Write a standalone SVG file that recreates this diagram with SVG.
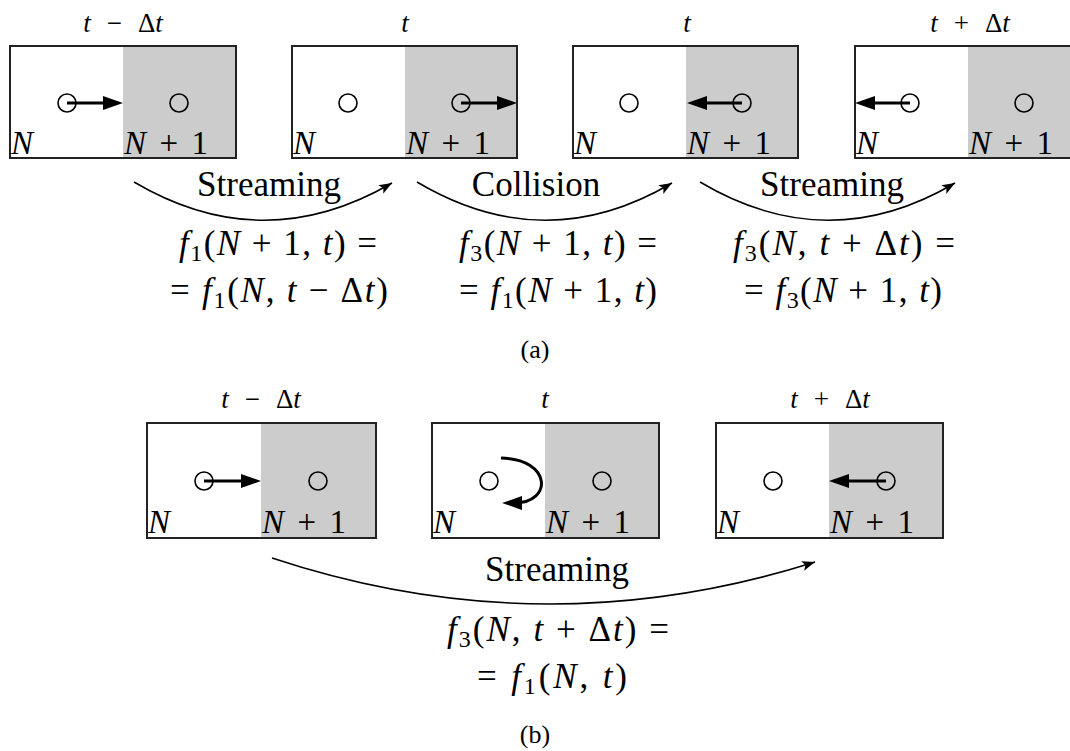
<svg xmlns="http://www.w3.org/2000/svg" width="1070" height="751" viewBox="0 0 1070 751">
<style>
text{font-family:"Liberation Serif","Times New Roman","DejaVu Serif",serif;fill:#000}
.i{font-style:italic}
.box{fill:#fff;stroke:#222;stroke-width:2}
.gray{fill:#cccccc}
.cir{fill:none;stroke:#000;stroke-width:1.6}
.thick{fill:none;stroke:#000;stroke-width:3}
.arc{fill:none;stroke:#000;stroke-width:1.5}
.lab{font-size:27px}
.nl{font-size:33px}
.big{font-size:35px}
.eq{font-size:35px}
.sub{font-size:24px}
.cap{font-size:26px}
</style>
<defs>
<marker id="ah" markerUnits="userSpaceOnUse" markerWidth="22" markerHeight="16" refX="14" refY="7" orient="auto">
<path d="M0,0 L20,7 L0,14 Z" fill="#000"/>
</marker>
<marker id="as" markerUnits="userSpaceOnUse" markerWidth="14" markerHeight="12" refX="13" refY="5" orient="auto">
<path d="M0,0 L13,5 L0,10 L3,5 Z" fill="#000"/>
</marker>
</defs>

<!-- (a) row -->
<g id="a1">
<rect class="box" x="10" y="46" width="226" height="112"/>
<rect class="gray" x="123" y="47" width="112" height="110"/>
<circle class="cir" cx="67" cy="103" r="9"/>
<circle class="cir" cx="179" cy="103" r="9"/>
<line class="thick" x1="67" y1="103" x2="117" y2="103" marker-end="url(#ah)"/>
<text class="nl i" x="11" y="154">N</text>
<text class="nl" x="124" y="154" textLength="84" lengthAdjust="spacing"><tspan class="i">N</tspan> + 1</text>
<text class="lab" x="123" y="32" text-anchor="middle"><tspan class="i">t</tspan><tspan dx="16">−</tspan><tspan dx="16">Δ</tspan><tspan class="i">t</tspan></text>
</g>
<g id="a2">
<rect class="box" x="292" y="46" width="225" height="112"/>
<rect class="gray" x="405" y="47" width="111" height="110"/>
<circle class="cir" cx="348" cy="103" r="9"/>
<circle class="cir" cx="461" cy="103" r="9"/>
<line class="thick" x1="461" y1="103" x2="511" y2="103" marker-end="url(#ah)"/>
<text class="nl i" x="293" y="154">N</text>
<text class="nl" x="406" y="154" textLength="84" lengthAdjust="spacing"><tspan class="i">N</tspan> + 1</text>
<text class="lab i" x="405" y="32" text-anchor="middle">t</text>
</g>
<g id="a3">
<rect class="box" x="573" y="46" width="225" height="112"/>
<rect class="gray" x="686" y="47" width="111" height="110"/>
<circle class="cir" cx="629" cy="103" r="9"/>
<circle class="cir" cx="742" cy="103" r="9"/>
<line class="thick" x1="742" y1="103" x2="693" y2="103" marker-end="url(#ah)"/>
<text class="nl i" x="574" y="154">N</text>
<text class="nl" x="687" y="154" textLength="84" lengthAdjust="spacing"><tspan class="i">N</tspan> + 1</text>
<text class="lab i" x="687" y="32" text-anchor="middle">t</text>
</g>
<g id="a4">
<rect class="box" x="855" y="46" width="226" height="112"/>
<rect class="gray" x="968" y="47" width="112" height="110"/>
<circle class="cir" cx="910" cy="103" r="9"/>
<circle class="cir" cx="1024" cy="103" r="9"/>
<line class="thick" x1="910" y1="103" x2="861" y2="103" marker-end="url(#ah)"/>
<text class="nl i" x="856" y="154">N</text>
<text class="nl" x="969" y="154" textLength="84" lengthAdjust="spacing"><tspan class="i">N</tspan> + 1</text>
<text class="lab" x="970" y="32" text-anchor="middle"><tspan class="i">t</tspan><tspan dx="16">+</tspan><tspan dx="16">Δ</tspan><tspan class="i">t</tspan></text>
</g>

<g id="connectors">
<path class="arc" d="M134,182 Q263,258 392,183" marker-end="url(#as)"/>
<path class="arc" d="M417,182 Q545,258 672,183" marker-end="url(#as)"/>
<path class="arc" d="M700,182 Q828,258 955,183" marker-end="url(#as)"/>
<path class="arc" d="M272,558 Q544,648 815,562" marker-end="url(#as)"/>
</g>

<g id="a-labels">
<text class="big" x="269" y="196" text-anchor="middle">Streaming</text>
<text class="big" x="536" y="196" text-anchor="middle">Collision</text>
<text class="big" x="832" y="196" text-anchor="middle">Streaming</text>

<text class="eq" x="278" y="255" text-anchor="middle" textLength="198" lengthAdjust="spacing"><tspan class="i">f</tspan><tspan class="sub" dy="6">1</tspan><tspan dy="-6">(</tspan><tspan class="i">N</tspan> + 1, <tspan class="i">t</tspan>) =</text>
<text class="eq" x="279" y="302" text-anchor="middle" textLength="218" lengthAdjust="spacing">= <tspan class="i">f</tspan><tspan class="sub" dy="6">1</tspan><tspan dy="-6">(</tspan><tspan class="i">N</tspan>, <tspan class="i">t</tspan> − Δ<tspan class="i">t</tspan>)</text>

<text class="eq" x="558" y="255" text-anchor="middle" textLength="198" lengthAdjust="spacing"><tspan class="i">f</tspan><tspan class="sub" dy="6">3</tspan><tspan dy="-6">(</tspan><tspan class="i">N</tspan> + 1, <tspan class="i">t</tspan>) =</text>
<text class="eq" x="558" y="302" text-anchor="middle" textLength="198" lengthAdjust="spacing">= <tspan class="i">f</tspan><tspan class="sub" dy="6">1</tspan><tspan dy="-6">(</tspan><tspan class="i">N</tspan> + 1, <tspan class="i">t</tspan>)</text>

<text class="eq" x="844" y="255" text-anchor="middle" textLength="222" lengthAdjust="spacing"><tspan class="i">f</tspan><tspan class="sub" dy="6">3</tspan><tspan dy="-6">(</tspan><tspan class="i">N</tspan>, <tspan class="i">t</tspan> + Δ<tspan class="i">t</tspan>) =</text>
<text class="eq" x="843" y="302" text-anchor="middle" textLength="198" lengthAdjust="spacing">= <tspan class="i">f</tspan><tspan class="sub" dy="6">3</tspan><tspan dy="-6">(</tspan><tspan class="i">N</tspan> + 1, <tspan class="i">t</tspan>)</text>

<text class="cap" x="535" y="358" text-anchor="middle">(a)</text>
</g>

<!-- (b) row -->
<g id="b1">
<rect class="box" x="147" y="423" width="229" height="115"/>
<rect class="gray" x="261" y="424" width="114" height="113"/>
<circle class="cir" cx="204" cy="481" r="9"/>
<circle class="cir" cx="318" cy="481" r="9"/>
<line class="thick" x1="204" y1="481" x2="255" y2="481" marker-end="url(#ah)"/>
<text class="nl i" x="148" y="533">N</text>
<text class="nl" x="262" y="533" textLength="84" lengthAdjust="spacing"><tspan class="i">N</tspan> + 1</text>
<text class="lab" x="261" y="408" text-anchor="middle"><tspan class="i">t</tspan><tspan dx="16">−</tspan><tspan dx="16">Δ</tspan><tspan class="i">t</tspan></text>
</g>
<g id="b2">
<rect class="box" x="432" y="423" width="227" height="115"/>
<rect class="gray" x="545" y="424" width="113" height="113"/>
<circle class="cir" cx="489" cy="481" r="9"/>
<circle class="cir" cx="602" cy="481" r="9"/>
<path class="thick" d="M501,458 C552,459 553,503 514,503 L508,503" marker-end="url(#ah)"/>
<text class="nl i" x="433" y="533">N</text>
<text class="nl" x="546" y="533" textLength="84" lengthAdjust="spacing"><tspan class="i">N</tspan> + 1</text>
<text class="lab i" x="545" y="408" text-anchor="middle">t</text>
</g>
<g id="b3">
<rect class="box" x="716" y="423" width="227" height="115"/>
<rect class="gray" x="829" y="424" width="113" height="113"/>
<circle class="cir" cx="773" cy="481" r="9"/>
<circle class="cir" cx="886" cy="481" r="9"/>
<line class="thick" x1="886" y1="481" x2="835" y2="481" marker-end="url(#ah)"/>
<text class="nl i" x="717" y="533">N</text>
<text class="nl" x="830" y="533" textLength="84" lengthAdjust="spacing"><tspan class="i">N</tspan> + 1</text>
<text class="lab" x="830" y="408" text-anchor="middle"><tspan class="i">t</tspan><tspan dx="16">+</tspan><tspan dx="16">Δ</tspan><tspan class="i">t</tspan></text>
</g>

<g id="b-labels">
<text class="big" x="557" y="581" text-anchor="middle">Streaming</text>
<text class="eq" x="558" y="641" text-anchor="middle" textLength="222" lengthAdjust="spacing"><tspan class="i">f</tspan><tspan class="sub" dy="6">3</tspan><tspan dy="-6">(</tspan><tspan class="i">N</tspan>, <tspan class="i">t</tspan> + Δ<tspan class="i">t</tspan>) =</text>
<text class="eq" x="552" y="688" text-anchor="middle" textLength="150" lengthAdjust="spacing">= <tspan class="i">f</tspan><tspan class="sub" dy="6">1</tspan><tspan dy="-6">(</tspan><tspan class="i">N</tspan>, <tspan class="i">t</tspan>)</text>
<text class="cap" x="535" y="743" text-anchor="middle">(b)</text>
</g>
</svg>
